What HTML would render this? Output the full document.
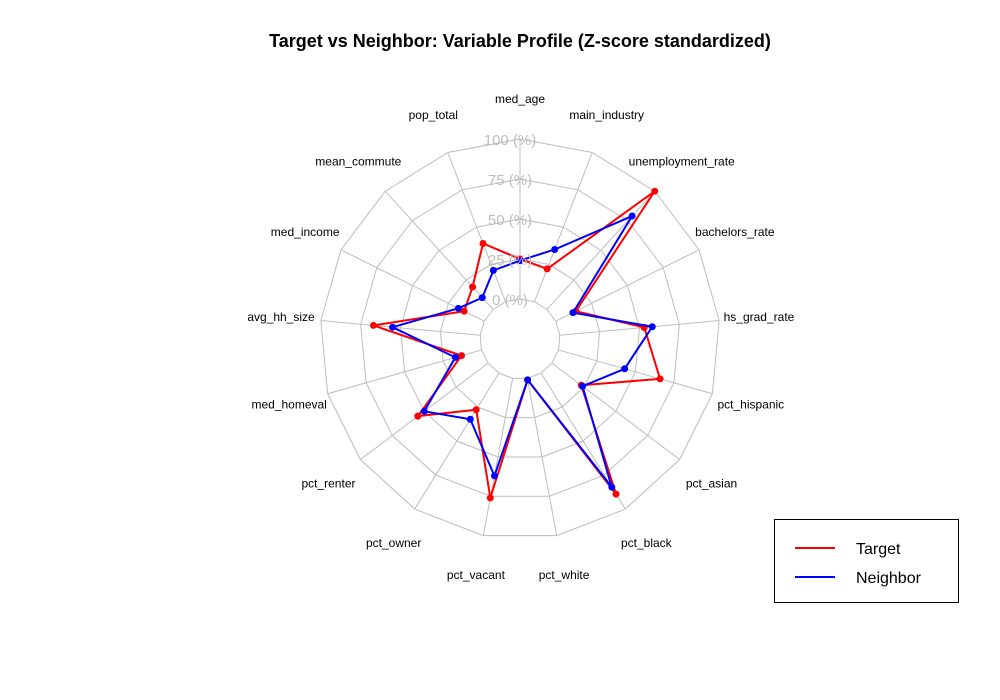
<!DOCTYPE html>
<html><head><meta charset="utf-8"><style>
body{margin:0;background:#fff;}
svg{display:block;font-family:"Liberation Sans",Arial,sans-serif;}
</style></head><body>
<svg id="chart" width="1000" height="700">
<text x="520" y="47" text-anchor="middle" font-size="18" font-weight="bold">Target vs Neighbor: Variable Profile (Z-score standardized)</text>
<g id="grid"></g><g id="series"></g><g id="labels"></g>
<g>
<rect x="774.5" y="519.5" width="184" height="83" fill="#fff" stroke="#000"/>
<line x1="795" y1="548" x2="835" y2="548" stroke="#f00" stroke-width="2"/>
<text x="856" y="554" font-size="16">Target</text>
<line x1="795" y1="577" x2="835" y2="577" stroke="#00f" stroke-width="2"/>
<text x="856" y="583" font-size="16">Neighbor</text>
</g>
</svg>
<script>
const categories=["med_age","main_industry","unemployment_rate","bachelors_rate","hs_grad_rate","pct_hispanic","pct_asian","pct_black","pct_white","pct_vacant","pct_owner","pct_renter","med_homeval","avg_hh_size","med_income","mean_commute","pop_total"];
const targetValues=[25,22,100,14,53,66,23,89,1,76,27,55,13,67,14,19,39];
const neighborValues=[24,35,79,12,58,43,24,84,1,62,34,50,17,55,18,10,21];
const tickLabels=["0 (%)","25 (%)","50 (%)","75 (%)","100 (%)"];
const CX=520,CY=339,R=200,NS="http://www.w3.org/2000/svg";
const n=categories.length;
function ang(i){return i*2*Math.PI/n;}
function rad(v){return R*(0.2+0.8*v/100);}
function pt(i,v){const r=rad(v),a=ang(i);return [CX+r*Math.sin(a),CY-r*Math.cos(a)];}
function mk(tag,attrs,parent){const e=document.createElementNS(NS,tag);for(const k in attrs)e.setAttribute(k,attrs[k]);parent.appendChild(e);return e;}
const grid=document.getElementById('grid');
tickLabels.forEach((t,k)=>{
  const v=k*25;const pts=categories.map((c,i)=>pt(i,v).join(',')).join(' ');
  const p=mk('polygon',{points:pts,fill:'none',stroke:'#bdbdbd','stroke-width':1},grid);
  
  
});
categories.forEach((c,i)=>{
  const a=pt(i,0),b=pt(i,100);
  const l=mk('line',{x1:a[0],y1:a[1],x2:b[0],y2:b[1],stroke:'#bdbdbd','stroke-width':1},grid);
  
  
});
const series=document.getElementById('series');
function draw(vals,color,name){
  const pts=vals.map((v,i)=>pt(i,v).join(',')).join(' ');
  const p=mk('polygon',{points:pts,fill:'none',stroke:color,'stroke-width':2},series);
  
  
  vals.forEach((v,i)=>{const q=pt(i,v);
    const c=mk('circle',{cx:q[0],cy:q[1],r:3.5,fill:color},series);
    
    });
}
draw(targetValues,'#f00','target');
draw(neighborValues,'#00f','neighbor');
const labels=document.getElementById('labels');
tickLabels.forEach((t,k)=>{
  const y=CY-rad(k*25)+6;
  const e=mk('text',{x:510,y:y,'text-anchor':'middle','font-size':15,fill:'#bebebe'},labels);
  e.textContent=t;
  
  
});
categories.forEach((c,i)=>{
  const a=ang(i),x=CX+240*Math.sin(a),y=CY-240*Math.cos(a)+4;
  const e=mk('text',{x:x,y:y,'text-anchor':'middle','font-size':12},labels);
  e.textContent=c;
  
  
});
</script>
</body></html>
